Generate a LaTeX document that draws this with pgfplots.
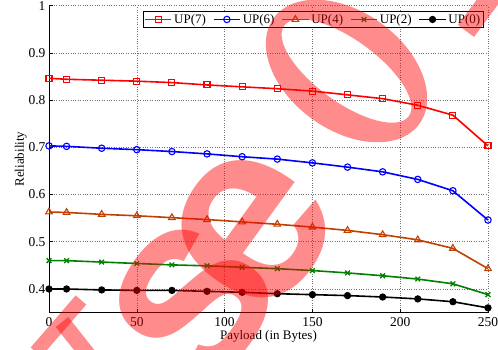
\documentclass[border=0pt]{standalone}
\usepackage{fontspec}
\setmainfont{Liberation Serif}
\newfontfamily\wmfont{Liberation Sans}
\usepackage{pgfplots}
\pgfplotsset{compat=1.18}
\definecolor{mybrown}{rgb}{0.75,0.25,0}
\definecolor{mygreen}{rgb}{0,0.5,0}
\pgfplotstableread{
x up7 up6 up4 up2 up0
0 0.846 0.703 0.563 0.460 0.400
10 0.844 0.702 0.562 0.460 0.400
30 0.842 0.698 0.558 0.457 0.398
50 0.840 0.695 0.555 0.454 0.397
70 0.837 0.691 0.551 0.451 0.397
90 0.832 0.686 0.547 0.449 0.395
110 0.828 0.680 0.542 0.446 0.393
130 0.824 0.675 0.537 0.443 0.390
150 0.819 0.667 0.531 0.439 0.388
170 0.811 0.658 0.524 0.434 0.386
190 0.803 0.648 0.515 0.428 0.383
210 0.789 0.632 0.504 0.421 0.379
230 0.768 0.608 0.486 0.411 0.373
250 0.703 0.546 0.443 0.388 0.360
}\datatable
\begin{document}
\begin{tikzpicture}
\begin{axis}[
  name=ax,
  scale only axis,
  width=439pt, height=307pt,
  xmin=0, xmax=250, ymin=0.35, ymax=1,
  xtick={0,50,100,150,200,250},
  ytick={0.4,0.5,0.6,0.7,0.8,0.9,1},
  yticklabels={0.4,0.5,0.6,0.7,0.8,0.9,1},
  axis x line*=bottom, axis y line*=left,
  axis line style={-, line width=0.8pt},
  tick align=inside,
  major tick length=4pt,
  tick style={black, line width=0.6pt},
  grid=major,
  major grid style={dotted, black!55, line width=0.6pt},
  /pgf/number format/assume math mode=true,
  tick label style={font=\fontsize{13.5}{15}\selectfont},
  xticklabel style={yshift=-1pt},
  label style={font=\fontsize{13}{15}\selectfont},
  xlabel={Payload (in Bytes)},
  ylabel={Reliability},
  xlabel style={yshift=3pt},
  ylabel style={yshift=-5pt},
  legend columns=5,
  legend style={at={(0.99,0.983)}, anchor=north east, draw=black, line width=0.8pt,
    font=\fontsize{13}{15}\selectfont, inner sep=1pt,
    /tikz/every even column/.append style={column sep=5pt}},
  legend image code/.code={\draw[mark repeat=2,mark phase=2] plot coordinates {(0cm,0cm) (0.46cm,0cm) (0.92cm,0cm)};},
  every axis plot/.append style={line width=1.6pt},
]
\addplot[red, line width=1.6pt, mark=square, mark size=3pt, mark options={solid,line width=1.1pt}] table[x=x,y=up7] {\datatable};
\addlegendentry{UP(7)}
\addplot[blue, line width=1.6pt, mark=o, mark size=3.2pt, mark options={solid,line width=1.1pt}] table[x=x,y=up6] {\datatable};
\addlegendentry{UP(6)}
\addplot[mybrown, line width=1.6pt, mark=triangle, mark size=3.8pt, mark options={solid,line width=1.1pt}] table[x=x,y=up4] {\datatable};
\addlegendentry{UP(4)}
\addplot[mygreen, line width=1.6pt, mark=x, mark size=3.3pt, mark options={solid,line width=1.3pt}] table[x=x,y=up2] {\datatable};
\addlegendentry{UP(2)}
\addplot[black, line width=1.6pt, mark=*, mark size=2.8pt, mark options={solid}] table[x=x,y=up0] {\datatable};
\addlegendentry{UP(0)}
\end{axis}
% watermark (image pixel coordinates)
\begin{scope}[shift={(ax.south west)}, xshift=-49pt, yshift=312.6pt, x=1pt, y=-1pt]
  \begin{scope}[red, opacity=0.45]
    \node[rotate=54, inner sep=0pt, font=\wmfont\bfseries\fontsize{260}{260}\selectfont] at (252,230) {e};
    \node[rotate=54, inner sep=0pt, font=\wmfont\bfseries\fontsize{260}{260}\selectfont] at (193,302) {s};
    \fill[even odd rule, rotate around={-36:(346.5,71)}] (346.5,71) ellipse [x radius=90pt, y radius=59pt] (346.5,71) ellipse [x radius=77pt, y radius=31pt];
    \draw[line width=14pt] (36,352) -- (81,300);
    \draw[line width=16pt] (62,322) -- (100,370);
    \draw[line width=20pt] (466,31) -- (500,-15);
  \end{scope}
\end{scope}
\pgfresetboundingbox
\path ([xshift=-49pt,yshift=-37.4pt]ax.south west) rectangle ([xshift=10pt,yshift=5.6pt]ax.north east);
\end{tikzpicture}
\end{document}
